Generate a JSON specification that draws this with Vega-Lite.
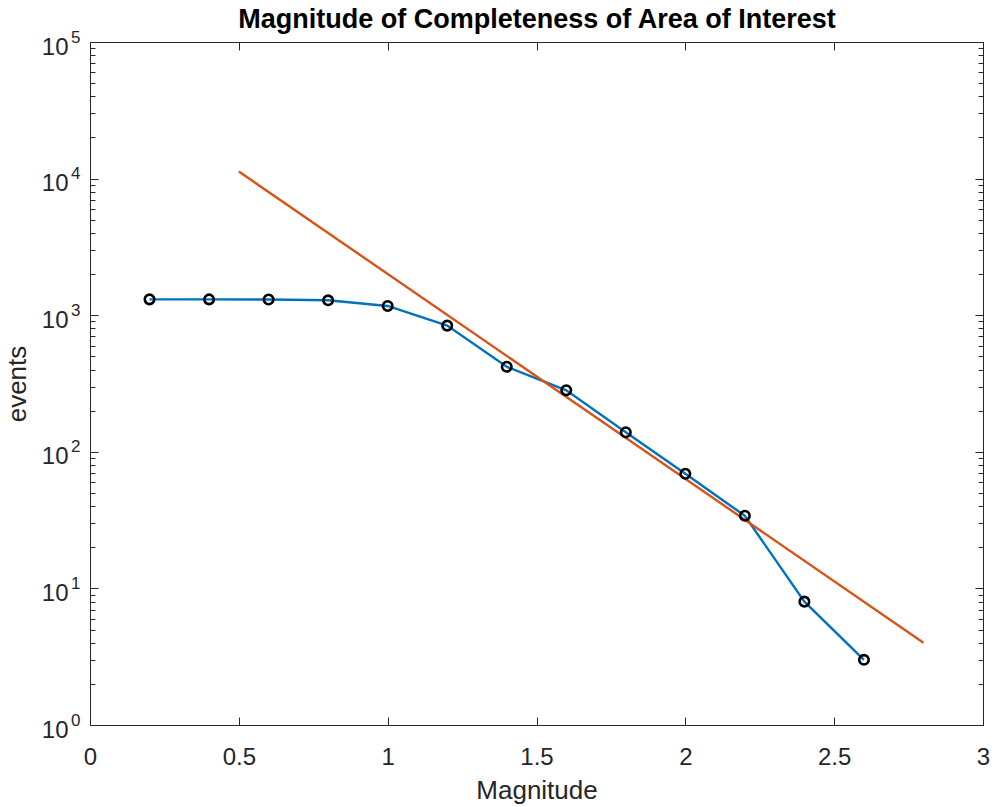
{
  "$schema": "https://vega.github.io/schema/vega-lite/v6.json",
  "autosize": {"type": "none"},
  "width": 893,
  "height": 683,
  "padding": {"left": 90, "top": 42, "right": 12, "bottom": 82},
  "background": "white",
  "config": {
    "view": {"stroke": null},
    "axis": {
      "grid": false,
      "domainColor": "#262626",
      "domainWidth": 1,
      "tickColor": "#262626",
      "tickWidth": 1,
      "labelFont": "Liberation Sans",
      "labelFontSize": 24,
      "labelColor": "#262626",
      "labelFontWeight": "normal",
      "titleFont": "Liberation Sans",
      "titleFontSize": 26,
      "titleFontWeight": "normal",
      "titleColor": "#262626",
      "labelOverlap": false,
      "labelFlush": false
    }
  },
  "datasets": {
    "counts": [
      {"magnitude": 0.2, "events": 1306},
      {"magnitude": 0.4, "events": 1305},
      {"magnitude": 0.6, "events": 1302},
      {"magnitude": 0.8, "events": 1285},
      {"magnitude": 1.0, "events": 1169},
      {"magnitude": 1.2, "events": 839},
      {"magnitude": 1.4, "events": 419},
      {"magnitude": 1.6, "events": 282},
      {"magnitude": 1.8, "events": 139},
      {"magnitude": 2.0, "events": 69},
      {"magnitude": 2.2, "events": 34},
      {"magnitude": 2.4, "events": 8},
      {"magnitude": 2.6, "events": 3}
    ],
    "fit": [
      {"magnitude": 0.5, "events": 11270},
      {"magnitude": 2.8, "events": 4.0}
    ]
  },
  "resolve": {"axis": {"x": "independent", "y": "independent"}},
  "layer": [
    {
      "data": {"name": "counts"},
      "mark": {"type": "line", "color": "#0072BD", "strokeWidth": 2.4},
      "encoding": {
        "x": {
          "field": "magnitude",
          "type": "quantitative",
          "scale": {"domain": [0, 3], "nice": false, "zero": false},
          "axis": {
            "orient": "bottom",
            "title": "Magnitude",
            "values": [0, 0.5, 1, 1.5, 2, 2.5, 3],
            "labelExpr": "'' + datum.value",
            "tickSize": -8,
            "labelPadding": 28,
            "titlePadding": 8
          }
        },
        "y": {
          "field": "events",
          "type": "quantitative",
          "scale": {"type": "log", "domain": [1, 100000], "nice": false},
          "axis": {
            "orient": "left",
            "title": "events",
            "values": [1, 2, 3, 4, 5, 6, 7, 8, 9, 10, 20, 30, 40, 50, 60, 70, 80, 90, 100, 200, 300, 400, 500, 600, 700, 800, 900, 1000, 2000, 3000, 4000, 5000, 6000, 7000, 8000, 9000, 10000, 20000, 30000, 40000, 50000, 60000, 70000, 80000, 90000, 100000],
            "labelExpr": "datum.value == pow(10, round(log(datum.value) / LN10)) ? '10' : ''",
            "labelOffset": 5,
            "tickSize": {"condition": {"test": "datum.value == pow(10, round(log(datum.value) / LN10))", "value": -8}, "value": -5},
            "labelPadding": 30,
            "titlePadding": 11
          }
        }
      }
    },
    {
      "data": {"name": "fit"},
      "mark": {"type": "line", "color": "#D95319", "strokeWidth": 2.4},
      "encoding": {
        "x": {
          "field": "magnitude",
          "type": "quantitative",
          "axis": {
            "orient": "top",
            "values": [0, 0.5, 1, 1.5, 2, 2.5, 3],
            "labels": false,
            "tickSize": -8,
            "title": "Magnitude of Completeness of Area of Interest",
            "titleFontWeight": "bold",
            "titleColor": "#000000",
            "titleFontSize": 27,
            "titleBaseline": "alphabetic",
            "titlePadding": 14
          }
        },
        "y": {
          "field": "events",
          "type": "quantitative",
          "axis": {
            "orient": "right",
            "values": [1, 2, 3, 4, 5, 6, 7, 8, 9, 10, 20, 30, 40, 50, 60, 70, 80, 90, 100, 200, 300, 400, 500, 600, 700, 800, 900, 1000, 2000, 3000, 4000, 5000, 6000, 7000, 8000, 9000, 10000, 20000, 30000, 40000, 50000, 60000, 70000, 80000, 90000, 100000],
            "labels": false,
            "title": null,
            "tickSize": {"condition": {"test": "datum.value == pow(10, round(log(datum.value) / LN10))", "value": -8}, "value": -5}
          }
        }
      }
    },
    {
      "data": {"name": "counts"},
      "mark": {"type": "point", "shape": "circle", "filled": false, "stroke": "#000000", "strokeWidth": 2.6, "size": 90, "opacity": 1},
      "encoding": {
        "x": {"field": "magnitude", "type": "quantitative", "axis": null},
        "y": {
          "field": "events",
          "type": "quantitative",
          "axis": {
            "orient": "left",
            "title": null,
            "domain": false,
            "ticks": false,
            "tickSize": 0,
            "values": [1, 10, 100, 1000, 10000, 100000],
            "labelExpr": "'' + round(log(datum.value) / LN10)",
            "labelFontSize": 17,
            "labelOffset": -5,
            "labelPadding": 10
          }
        }
      }
    }
  ]
}
